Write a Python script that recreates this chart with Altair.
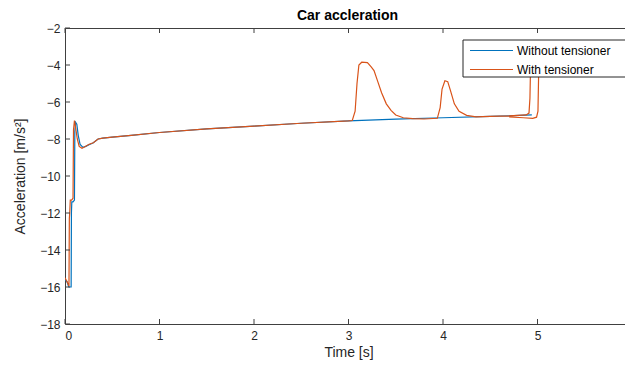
import altair as alt
import pandas as pd

# ---- data ----
blue_t = [0, 0.02, 0.04, 0.065, 0.068, 0.072, 0.085, 0.1, 0.104, 0.112, 0.125, 0.14, 0.16,
          0.19, 0.22, 0.26, 0.3, 0.35, 0.4, 0.5, 0.7, 1.0, 1.5, 2.0, 2.5, 3.0, 3.5, 4.0,
          4.5, 4.94]
blue_y = [-15.6, -15.7, -16.0, -16.0, -12.0, -11.4, -11.4, -11.3, -7.6, -7.1, -7.2, -7.8,
          -8.3, -8.45, -8.4, -8.3, -8.2, -8.0, -7.95, -7.9, -7.8, -7.65, -7.45, -7.3, -7.15,
          -7.02, -6.93, -6.85, -6.78, -6.7]

orange_t = [0, 0.03, 0.042, 0.046, 0.05, 0.056, 0.07, 0.085, 0.09, 0.1, 0.11, 0.13, 0.15,
            0.18, 0.21, 0.25, 0.3, 0.35, 0.4, 0.5, 0.7, 1.0, 1.5, 2.0, 2.5, 3.0, 3.04,
            3.07, 3.09, 3.11, 3.14, 3.2, 3.24, 3.27, 3.31, 3.35, 3.4, 3.45, 3.5, 3.58,
            3.68, 3.8, 3.94, 3.97, 3.99, 4.02, 4.05, 4.08, 4.12, 4.17, 4.25, 4.35, 4.5,
            4.7, 4.88, 4.91, 4.92, 4.925, 4.93, 5.01, 5.012, 5.005, 4.99, 4.95, 4.85, 4.7]
orange_y = [-15.5, -15.8, -15.95, -12.3, -12.0, -11.3, -11.3, -11.2, -7.5, -7.0, -7.3,
            -8.0, -8.4, -8.5, -8.42, -8.3, -8.2, -8.0, -7.95, -7.9, -7.8, -7.65, -7.45,
            -7.3, -7.15, -7.02, -7.0, -6.5, -5.0, -4.0, -3.85, -3.87, -4.1, -4.3, -4.9,
            -5.5, -6.1, -6.45, -6.7, -6.85, -6.9, -6.92, -6.88, -6.3, -5.3, -4.85, -4.9,
            -5.4, -6.1, -6.5, -6.72, -6.8, -6.78, -6.75, -6.7, -6.6, -5.8, -4.5, -3.5,
            -3.5, -4.5, -6.5, -6.82, -6.88, -6.85, -6.8]

series_names = ["Without tensioner", "With tensioner"]
series_colors = ["#0072BD", "#D95319"]
chart_title = "Car accleration"

x_ticks = [0, 1, 2, 3, 4, 5, 6]
y_ticks = [-18, -16, -14, -12, -10, -8, -6, -4, -2]

rows = []
for i, (t, y) in enumerate(zip(blue_t, blue_y)):
    rows.append({"t": t, "a": y, "series": series_names[0], "idx": i})
for i, (t, y) in enumerate(zip(orange_t, orange_y)):
    rows.append({"t": t, "a": y, "series": series_names[1], "idx": i})
df = pd.DataFrame(rows)

W, H = 567, 296
FONT = "Liberation Sans"
TXT = "#262626"
TC = "#404040"

xscale = alt.Scale(domain=[0, 6], nice=False, zero=False)
yscale = alt.Scale(domain=[-18, -2], nice=False, zero=False)

x_axis = alt.Axis(title="Time [s]", values=x_ticks, format="d", grid=False,
                  ticks=False, domain=False, labelPadding=6, titlePadding=4,
                  labelOverlap=False)
y_axis = alt.Axis(title="Acceleration [m/s²]", values=y_ticks, format="d",
                  grid=False, ticks=False, domain=False, labelPadding=5,
                  titlePadding=12, labelOverlap=False)

lines = alt.Chart(df).mark_line(strokeWidth=1.2, clip=True).encode(
    x=alt.X("t:Q", scale=xscale, axis=x_axis),
    y=alt.Y("a:Q", scale=yscale, axis=y_axis),
    color=alt.Color("series:N",
                    scale=alt.Scale(domain=series_names, range=series_colors),
                    sort=series_names, legend=None),
    detail="series:N",
    order="idx:Q",
)

xt = pd.DataFrame({"v": x_ticks})
yt = pd.DataFrame({"v": y_ticks})
xbot = alt.Chart(xt).mark_rule(color=TC).encode(
    x=alt.X("v:Q", scale=xscale, axis=x_axis), y=alt.value(H), y2=alt.value(H - 5))
xtop = alt.Chart(xt).mark_rule(color=TC).encode(
    x=alt.X("v:Q", scale=xscale, axis=x_axis), y=alt.value(0), y2=alt.value(5))
yleft = alt.Chart(yt).mark_rule(color=TC).encode(
    y=alt.Y("v:Q", scale=yscale, axis=y_axis), x=alt.value(0), x2=alt.value(5))
yright = alt.Chart(yt).mark_rule(color=TC).encode(
    y=alt.Y("v:Q", scale=yscale, axis=y_axis), x=alt.value(W - 5), x2=alt.value(W))

one = pd.DataFrame({"k": [0]})
title_mark = alt.Chart(one).mark_text(font=FONT, fontSize=14, fontWeight="bold",
                                      color="black", align="center",
                                      baseline="middle").encode(
    x=alt.value(W / 2 - 1), y=alt.value(-12), text=alt.value(chart_title))

# ---- legend box (drawn as marks so its compact MATLAB look can be matched) ----
LX0, LX1, LY0, LY1 = 398, 562, 12, 49
legend_layers = [
    alt.Chart(one).mark_rect(fill="white", stroke=TXT, strokeWidth=1).encode(
        x=alt.value(LX0), x2=alt.value(LX1), y=alt.value(LY0), y2=alt.value(LY1))
]
for i, (name, col) in enumerate(zip(series_names, series_colors)):
    ly = LY0 + 10.5 + 19 * i
    legend_layers.append(
        alt.Chart(one).mark_rule(color=col, strokeWidth=1.2).encode(
            x=alt.value(LX0 + 7), x2=alt.value(LX0 + 50), y=alt.value(ly)))
    legend_layers.append(
        alt.Chart(one).mark_text(align="left", baseline="middle", font=FONT,
                                 fontSize=12, color="black").encode(
            x=alt.value(LX0 + 54), y=alt.value(ly + 0.5), text=alt.value(name)))

chart = alt.layer(lines, xbot, xtop, yleft, yright, *legend_layers, title_mark).properties(
    width=W, height=H,
    autosize=alt.AutoSizeParams(type="none"),
    padding={"left": 57, "top": 20, "right": -7, "bottom": 38},
).configure_view(
    stroke=TC, strokeWidth=1
).configure_axis(
    labelFont=FONT, labelFontSize=12, labelColor=TXT, labelOverlap=False,
    titleFont=FONT, titleFontSize=14, titleColor=TXT, titleFontWeight="normal",
)

chart.save("out.html", embed_options={"renderer": "svg", "actions": False})
